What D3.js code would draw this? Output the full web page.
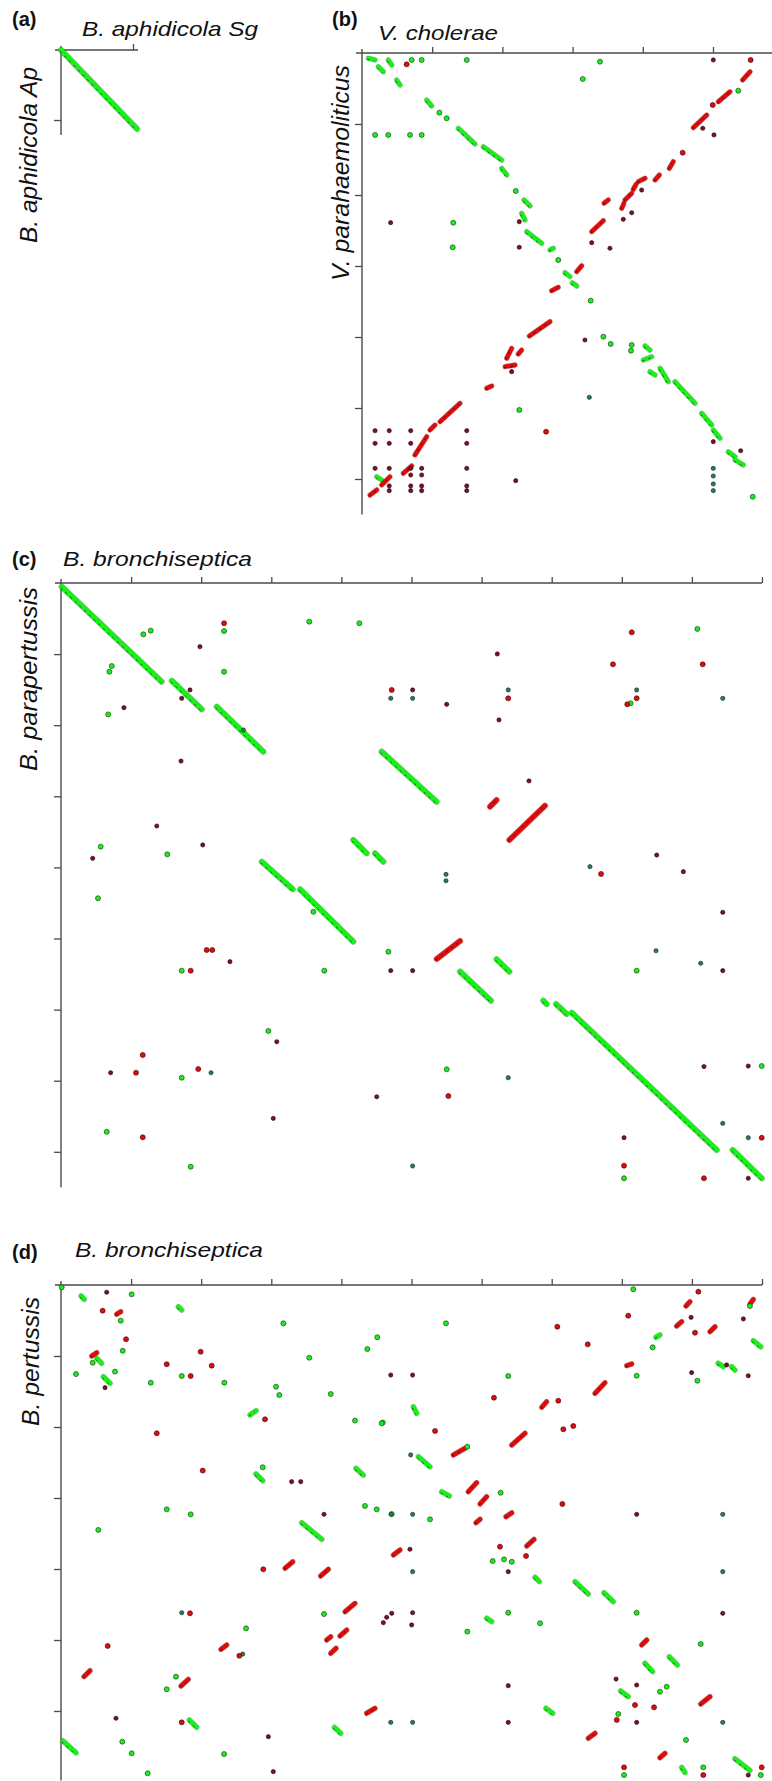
<!DOCTYPE html>
<html><head><meta charset="utf-8">
<script src="https://cdn.jsdelivr.net/npm/d3@7"></script>
<style>html,body{margin:0;padding:0;background:#fff;} svg{display:block;}</style>
</head><body>
<svg id="chart" width="772" height="1781"></svg>
<script>
// ---------------- DATA (positions in Mb along each genome) ----------------
// Panel (a)
const fwdSegsA = [[0.0,0.0,0.528,0.564]];
const xTicksA = [0.5], yTicksA = [0.5];

// Panel (b)
const fwdSegsB = [
[0.045,0.037,0.093,0.049],[0.116,0.096,0.152,0.132],[0.187,0.049,0.212,0.085],[0.247,0.190,0.271,0.225],
[0.461,0.331,0.496,0.373],[0.686,0.530,0.805,0.641],[0.864,0.660,0.995,0.754],[0.995,0.812,1.031,0.859],
[1.154,1.035,1.197,1.077],[1.137,1.129,1.161,1.176],[1.173,1.258,1.280,1.340],[1.339,1.387,1.363,1.375],
[1.446,1.547,1.481,1.575],[1.498,1.618,1.529,1.641],[2.016,2.063,2.051,2.092],[2.004,2.162,2.063,2.139],
[2.051,2.244,2.087,2.268],[2.123,2.220,2.182,2.315],[2.229,2.315,2.372,2.467],[2.419,2.537,2.491,2.620],
[2.502,2.655,2.550,2.713],[2.609,2.808,2.657,2.843],[2.657,2.866,2.716,2.901],[0.105,2.984,0.140,3.007]
];
const fwdDotsB = [
[0.354,0.049],[0.425,0.049],[0.746,0.049],[1.695,0.061],[1.572,0.183],[0.551,0.420],[0.603,0.460],
[0.093,0.577],[0.187,0.577],[0.342,0.577],[0.425,0.577],[1.095,0.972],[0.650,1.195],[0.646,1.368],
[1.398,1.458],[1.629,1.744],[1.719,1.998],[1.771,2.049],[1.921,2.056],[1.916,2.096],[2.783,3.125],
[1.120,2.514],[2.680,0.265]
];
const darkFwdDotsB = [[1.619,2.425],[2.502,2.925],[2.502,2.979],[2.502,3.035],[2.502,3.082]];
const revSegsB = [
[2.711,0.190,2.764,0.132],[2.538,0.343,2.621,0.273],[2.360,0.526,2.455,0.437],[2.189,0.812,2.217,0.765],
[2.087,0.894,2.118,0.859],[1.968,0.906,2.016,0.882],[1.932,0.960,1.952,0.925],[1.873,1.035,1.921,0.988],
[1.850,1.094,1.866,1.058],[1.724,1.058,1.754,1.035],[1.636,1.258,1.719,1.181],[1.529,1.540,1.565,1.498],
[1.351,1.674,1.398,1.650],[1.192,1.993,1.339,1.892],[1.031,2.150,1.066,2.080],[1.113,2.120,1.137,2.092],
[1.019,2.209,1.090,2.197],[0.888,2.361,0.924,2.345],[0.057,3.113,0.105,3.077],[0.140,3.042,0.199,2.984],
[0.294,2.960,0.354,2.908],[0.377,2.831,0.461,2.702],[0.484,2.655,0.520,2.620],[0.556,2.596,0.698,2.467]
];
const revDotsB = [[2.768,0.049],[2.498,0.366],[2.284,0.702],[1.311,2.667],[0.318,0.080]];
const darkRevDotsB = [
[2.502,0.049],[2.427,0.530],[2.507,0.577],[1.992,0.965],[1.921,1.125],[1.861,1.171],[1.636,1.336],
[1.766,1.375],[1.588,2.021],[1.066,2.244],[1.095,3.012],[0.204,1.195],[1.120,1.188],[1.120,1.368],
[2.697,2.801],[2.502,2.737],
[0.093,2.660],[0.194,2.660],[0.347,2.660],[0.746,2.660],
[0.093,2.749],[0.194,2.749],[0.347,2.749],[0.746,2.749],
[0.093,2.925],[0.194,2.925],[0.347,2.925],[0.425,2.925],[0.746,2.925],
[0.347,2.972],[0.425,2.972],
[0.194,3.049],[0.347,3.049],[0.425,3.049],[0.746,3.049],
[0.194,3.082],[0.347,3.082],[0.425,3.082],[0.746,3.082]
];
const xTicksB = [0.5,1.0,1.5,2.0,2.5];
const yTicksB = [0.5,1.0,1.5,2.0,2.5,3.0];

// Panel (c)
const fwdSegsC = [
[0.005,0.026,0.718,0.694],[0.790,0.687,1.004,0.888],[1.111,0.870,1.443,1.186],[2.287,1.186,2.679,1.538],
[2.085,1.807,2.180,1.901],[2.240,1.901,2.299,1.960],[1.432,1.960,1.653,2.154],[1.705,2.154,2.085,2.522],
[2.846,2.733,3.067,2.937],[3.107,2.646,3.198,2.733],[3.440,2.937,3.464,2.961],[3.531,2.961,3.607,3.031],
[3.643,3.022,4.677,3.987],[4.791,3.987,4.998,4.186]
];
const fwdDotsC = [
[0.587,0.361],[0.640,0.335],[1.163,0.338],[1.771,0.272],[2.128,0.283],[0.362,0.584],[0.345,0.624],
[1.163,0.624],[0.337,0.924],[4.539,0.323],[4.063,0.846],[0.283,1.854],[0.758,1.908],[1.800,2.312],
[0.264,2.217],[0.861,2.726],[1.878,2.726],[2.335,2.593],[1.479,3.150],[0.861,3.479],[0.326,3.859],
[0.925,4.105],[4.106,2.726],[2.751,3.420],[4.998,3.397],[4.016,4.186]
];
const darkFwdDotsC = [
[2.352,0.811],[2.508,0.811],[3.190,0.752],[4.106,0.752],[4.720,0.811],[3.773,1.995],[2.746,2.094],
[4.244,2.586],[4.563,2.674],[3.190,3.479],[4.720,3.800],[4.902,3.901],[2.508,4.100],[1.070,3.444],
[1.301,1.034],[2.746,2.049]
];
const revSegsC = [[3.060,1.573,3.107,1.526],[3.198,1.807,3.452,1.566],[2.680,2.644,2.846,2.518]];
const revDotsC = [
[1.163,0.283],[2.359,0.752],[3.190,0.811],[4.106,0.811],[4.039,0.853],[4.071,0.347],[3.937,0.572],
[4.577,0.572],[1.039,2.581],[1.079,2.581],[0.925,2.726],[0.535,3.444],[0.583,3.319],[0.979,3.418],
[0.583,3.898],[3.852,2.046],[2.763,3.608],[4.998,3.901],[4.016,4.098],[4.586,4.186]
];
const darkRevDotsC = [
[0.991,0.448],[0.920,0.752],[0.861,0.811],[0.449,0.877],[0.856,1.252],[0.683,1.709],[0.226,1.936],
[1.011,1.842],[2.508,0.752],[3.112,0.499],[2.751,0.853],[3.124,0.963],[3.338,1.392],[4.249,1.913],
[1.205,2.663],[2.352,2.726],[1.539,3.226],[0.354,3.444],[2.252,3.613],[1.514,3.765],[4.439,2.030],
[4.720,2.316],[2.508,2.726],[4.720,2.726],[4.586,3.401],[4.902,3.397],[4.016,3.901],[4.902,4.186]
];
const xTicksC = [0.5,1.0,1.5,2.0,2.5,3.0,3.5,4.0,4.5,5.0];
const yTicksC = [0.5,1.0,1.5,2.0,2.5,3.0,3.5,4.0];

// Panel (d)
const fwdSegsD = [
[0.143,0.077,0.166,0.101],[0.837,0.153,0.861,0.176],[0.255,0.516,0.290,0.551],[0.302,0.646,0.350,0.692],
[1.348,0.915,1.391,0.885],[1.391,1.331,1.439,1.378],[2.104,1.291,2.156,1.338],[4.244,0.368,4.272,0.352],
[4.938,0.392,4.991,0.435],[4.688,0.551,4.724,0.575],[4.784,0.575,4.807,0.599],[2.513,0.857,2.537,0.904],
[2.549,1.209,2.632,1.280],[1.717,1.674,1.860,1.791],[0.012,3.209,0.107,3.294],[0.915,3.063,0.968,3.115],
[1.950,3.115,1.995,3.157],[3.381,2.058,3.412,2.089],[3.666,2.089,3.761,2.176],[3.873,2.167,3.939,2.230],
[3.036,2.347,3.072,2.371],[4.339,2.618,4.396,2.676],[4.165,2.664,4.220,2.723],[3.992,2.859,4.046,2.899],
[3.459,2.981,3.507,3.016],[4.807,3.336,4.914,3.418],[4.427,3.397,4.451,3.434],[2.715,1.456,2.770,1.486]
];
const fwdDotsD = [
[0.005,0.016],[0.504,0.066],[0.426,0.251],[1.586,0.270],[0.226,0.547],[0.440,0.463],[0.107,0.627],
[0.385,0.610],[0.640,0.688],[0.861,0.641],[1.165,0.688],[1.771,0.512],[1.534,0.716],[1.557,0.775],
[1.924,0.768],[2.185,0.451],[2.256,0.368],[2.097,0.955],[2.295,0.969],[1.439,1.284],[4.082,0.030],
[4.914,0.148],[4.220,0.439],[4.106,0.639],[4.539,0.674],[3.190,0.641],[2.746,0.270],[2.287,0.974],
[2.898,1.139],[3.136,1.463],[0.754,1.580],[0.925,1.615],[0.266,1.725],[2.168,1.556],[2.252,1.580],
[2.359,1.613],[1.320,2.418],[1.876,2.317],[0.820,2.758],[0.754,2.847],[0.437,3.216],[0.504,3.298],
[1.163,3.303],[0.618,3.439],[2.632,1.650],[3.079,1.944],[3.160,1.932],[3.215,1.949],[3.190,2.308],
[3.417,2.382],[2.898,2.441],[4.563,2.528],[4.272,2.864],[4.320,2.829],[3.975,3.021],[4.458,3.204],
[4.016,3.451],[4.581,3.397],[4.991,3.451],[4.106,2.308]
];
const darkFwdDotsD = [
[2.494,1.197],[0.861,2.308],[1.296,2.599],[2.352,3.080],[2.354,1.615],[2.508,1.615],[4.720,1.615],
[2.508,2.019],[4.720,2.019],[2.508,3.080],[4.720,3.080]
];
const revSegsD = [
[0.397,0.206,0.426,0.188],[0.219,0.500,0.255,0.477],[4.458,0.148,4.486,0.118],[4.914,0.134,4.938,0.101],
[4.391,0.289,4.427,0.258],[4.629,0.329,4.665,0.294],[4.035,0.568,4.071,0.556],[3.809,0.763,3.880,0.688],
[3.429,0.861,3.464,0.822],[3.215,1.127,3.310,1.044],[2.798,1.197,2.882,1.150],[2.905,1.456,2.965,1.392],
[2.371,1.901,2.418,1.866],[1.598,1.995,1.653,1.949],[1.852,2.049,1.907,2.002],[2.026,2.301,2.097,2.242],
[1.141,2.566,1.182,2.535],[1.895,2.500,1.924,2.477],[1.990,2.472,2.038,2.430],[1.924,2.594,1.962,2.558],
[0.164,2.758,0.207,2.716],[0.856,2.824,0.908,2.777],[2.180,3.016,2.240,2.981],[2.989,1.542,3.036,1.491],
[2.960,1.674,2.989,1.650],[3.174,1.632,3.215,1.604],[3.322,1.838,3.374,1.791],[4.142,2.535,4.178,2.500],
[4.563,2.951,4.629,2.899],[3.761,3.192,3.809,3.157],[4.272,3.329,4.308,3.298]
];
const revDotsD = [
[0.297,0.181],[0.464,0.382],[0.754,0.558],[0.996,0.470],[1.075,0.568],[0.925,0.641],[1.455,0.946],
[0.683,1.044],[1.011,1.307],[4.546,0.047],[4.046,0.216],[4.522,0.336],[3.540,0.294],[3.757,0.418],
[3.547,0.815],[3.088,0.794],[3.583,1.016],[3.654,0.993],[2.668,1.028],[1.443,2.002],[0.920,2.312],
[0.333,2.542],[1.272,2.611],[0.861,3.080],[3.576,1.542],[3.131,1.843],[3.317,1.908],[4.230,2.974],
[4.094,2.958],[3.964,3.063],[4.016,3.397],[4.581,3.451],[4.998,3.397]
];
const darkRevDotsD = [
[0.326,0.051],[0.314,0.723],[2.352,0.634],[1.645,1.385],[1.710,1.385],[4.494,0.228],[4.867,0.239],
[4.748,0.563],[4.498,0.617],[4.902,0.639],[2.508,0.634],[1.876,1.615],[2.299,2.378],[2.323,2.340],
[2.359,2.312],[0.392,3.051],[1.479,3.181],[1.514,3.427],[2.489,1.861],[4.106,1.615],[3.190,2.019],
[2.508,2.308],[2.501,2.394],[4.720,2.312],[3.959,2.775],[4.106,2.817],[3.190,2.822],[4.106,3.080],
[3.190,3.080],[4.902,3.451]
];
const xTicksD = [0.5,1.0,1.5,2.0,2.5,3.0,3.5,4.0,4.5,5.0];
const yTicksD = [0.5,1.0,1.5,2.0,2.5,3.0];

const panelLabels = ["(a)","(b)","(c)","(d)"];
const xTitles = ["B. aphidicola Sg","V. cholerae","B. bronchiseptica","B. bronchiseptica"];
const yTitles = ["B. aphidicola Ap","V. parahaemoliticus","B. parapertussis","B. pertussis"];

// ---------------- LAYOUT ----------------
const layout = [
 {ox:61, oy:50, kx:144, ky:140, xMax:0.535, yMax:0.607,
  lab:[12,26], xt:[82,36,176], yt:[37,243,176], segW:5.2},
 {ox:362, oy:53, kx:140.4, ky:142, xMax:2.92, yMax:3.25,
  lab:[332,26], xt:[378,40,120], yt:[349,281,216], segW:4.4},
 {ox:61, oy:583, kx:140.2, ky:142.2, xMax:5.0, yMax:4.25,
  lab:[12,566], xt:[63,566,189], yt:[37,771,184], segW:5.2},
 {ox:61, oy:1285, kx:140.2, ky:142, xMax:5.0, yMax:3.49,
  lab:[12,1259], xt:[75,1257,188], yt:[39,1426,129], segW:4.6}
];
const data = [
 {fs:fwdSegsA, fd:[], fdd:[], rs:[], rd:[], rdd:[], xt:xTicksA, yt:yTicksA},
 {fs:fwdSegsB, fd:fwdDotsB, fdd:darkFwdDotsB, rs:revSegsB, rd:revDotsB, rdd:darkRevDotsB, xt:xTicksB, yt:yTicksB},
 {fs:fwdSegsC, fd:fwdDotsC, fdd:darkFwdDotsC, rs:revSegsC, rd:revDotsC, rdd:darkRevDotsC, xt:xTicksC, yt:yTicksC},
 {fs:fwdSegsD, fd:fwdDotsD, fdd:darkFwdDotsD, rs:revSegsD, rd:revDotsD, rdd:darkRevDotsD, xt:xTicksD, yt:yTicksD}
];

const GREEN="#19f019", RED="#e00d0d", DKGREEN="#2c7a58", DKRED="#7a1222";
const AX="#4a4a4a";
const FONT="'Liberation Sans', Arial, Helvetica, sans-serif";

const svg = d3.select("#chart");

layout.forEach((L,i)=>{
  const D = data[i];
  const x = d3.scaleLinear().domain([0,L.xMax]).range([L.ox, L.ox + L.xMax*L.kx]);
  const y = d3.scaleLinear().domain([0,L.yMax]).range([L.oy, L.oy + L.yMax*L.ky]);
  const g = svg.append("g");

  // axes
  const ax = g.append("g").attr("transform",`translate(0,${L.oy})`)
    .call(d3.axisTop(x).tickValues(D.xt).tickSize(6).tickSizeOuter(0).tickFormat(""));
  ax.select(".domain").remove();
  ax.selectAll("line").attr("stroke",AX).attr("stroke-width",1.3);
  const ay = g.append("g").attr("transform",`translate(${L.ox},0)`)
    .call(d3.axisLeft(y).tickValues(D.yt).tickSize(7).tickSizeOuter(0).tickFormat(""));
  ay.select(".domain").remove();
  ay.selectAll("line").attr("stroke",AX).attr("stroke-width",1.3);
  g.append("line").attr("x1",x(0)-6).attr("x2",x(L.xMax)).attr("y1",y(0)).attr("y2",y(0))
    .attr("stroke",AX).attr("stroke-width",1.4);
  g.append("line").attr("x1",x(0)).attr("x2",x(0)).attr("y1",y(0)-4).attr("y2",y(L.yMax))
    .attr("stroke",AX).attr("stroke-width",1.4);

  // segments
  const drawSegs = (arr, col, dark, w) => {
    g.selectAll(null).data(arr).enter().append("line")
      .attr("x1",d=>x(d[0])).attr("y1",d=>y(d[1])).attr("x2",d=>x(d[2])).attr("y2",d=>y(d[3]))
      .attr("stroke",dark).attr("stroke-opacity",0.35).attr("stroke-width",w+1.0).attr("stroke-linecap","round");
    g.selectAll(null).data(arr).enter().append("line")
      .attr("x1",d=>x(d[0])).attr("y1",d=>y(d[1])).attr("x2",d=>x(d[2])).attr("y2",d=>y(d[3]))
      .attr("stroke",col).attr("stroke-width",w).attr("stroke-linecap","round");
    g.selectAll(null).data(arr).enter().append("line")
      .attr("transform","translate(-1.1,1.1)")
      .attr("x1",d=>x(d[0])).attr("y1",d=>y(d[1])).attr("x2",d=>x(d[2])).attr("y2",d=>y(d[3]))
      .attr("stroke",dark).attr("stroke-opacity",0.75).attr("stroke-width",1.0)
      .attr("stroke-dasharray","2.5,4");
  };
  const drawDots = (arr, col, dark, r) => {
    g.selectAll(null).data(arr).enter().append("circle")
      .attr("cx",d=>x(d[0])).attr("cy",d=>y(d[1])).attr("r",r)
      .attr("fill",col).attr("stroke",dark).attr("stroke-width",0.9).attr("stroke-opacity",0.7);
  };
  drawSegs(D.fs, GREEN, "#123a12", L.segW);
  drawSegs(D.rs, RED, "#3a0505", L.segW);
  drawDots(D.fd, GREEN, "#123a12", 2.5);
  drawDots(D.fdd, DKGREEN, "#0d2a1a", 2.1);
  drawDots(D.rd, RED, "#3a0505", 2.5);
  drawDots(D.rdd, DKRED, "#250006", 2.1);

  // texts
  svg.append("text").attr("x",L.lab[0]).attr("y",L.lab[1]).text(panelLabels[i])
    .attr("font-family",FONT).attr("font-weight","bold").attr("font-size",20).attr("fill","#111");
  svg.append("text").attr("x",L.xt[0]).attr("y",L.xt[1]).text(xTitles[i])
    .attr("font-family",FONT).attr("font-style","italic").attr("font-size",21).attr("fill","#111")
    .attr("textLength",L.xt[2]).attr("lengthAdjust","spacingAndGlyphs");
  svg.append("text").attr("transform",`translate(${L.yt[0]},${L.yt[1]}) rotate(-90)`).text(yTitles[i])
    .attr("font-family",FONT).attr("font-style","italic").attr("font-size",24).attr("fill","#111")
    .attr("textLength",L.yt[2]).attr("lengthAdjust","spacingAndGlyphs");
});
</script>
</body></html>
